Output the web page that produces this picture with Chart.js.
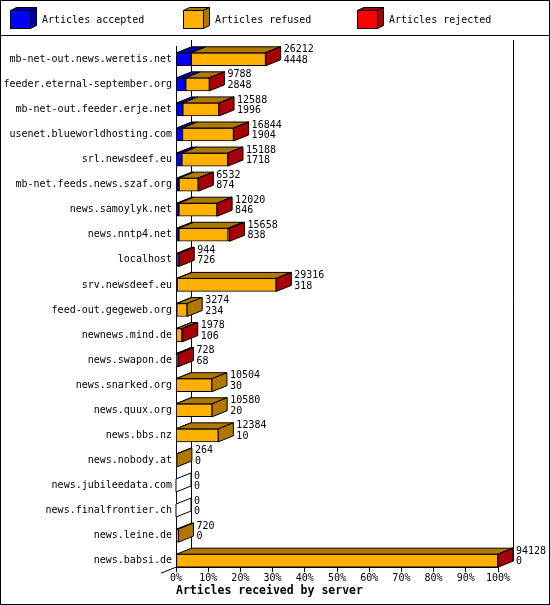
<!DOCTYPE html>
<html>
<head>
<meta charset="utf-8">
<script src="https://cdn.jsdelivr.net/npm/chart.js@4/dist/chart.umd.min.js"></script>
<style>
  html, body { margin: 0; padding: 0; background: #fff; }
  #wrap { width: 550px; height: 605px; }
</style>
</head>
<body>
<div id="wrap"><canvas id="chart" width="550" height="605"></canvas></div>
<script>
const categories = ['mb-net-out.news.weretis.net', 'feeder.eternal-september.org', 'mb-net-out.feeder.erje.net',
  'usenet.blueworldhosting.com', 'srl.newsdeef.eu', 'mb-net.feeds.news.szaf.org', 'news.samoylyk.net',
  'news.nntp4.net', 'localhost', 'srv.newsdeef.eu', 'feed-out.gegeweb.org', 'newnews.mind.de',
  'news.swapon.de', 'news.snarked.org', 'news.quux.org', 'news.bbs.nz', 'news.nobody.at',
  'news.jubileedata.com', 'news.finalfrontier.ch', 'news.leine.de', 'news.babsi.de'];

// first number next to each bar, and second number (accepted)
const totals = [26212, 9788, 12588, 16844, 15188, 6532, 12020, 15658, 944, 29316, 3274,
  1978, 728, 10504, 10580, 12384, 264, 0, 0, 720, 94128];
const accepted = [4448, 2848, 1996, 1904, 1718, 874, 846, 838, 726, 318, 234,
  106, 68, 30, 20, 10, 0, 0, 0, 0, 0];
const refused = [21724, 6910, 10552, 14890, 13430, 5628, 11134, 14370, 18, 28938, 3040,
  1622, 410, 10474, 10560, 12374, 264, 0, 0, 720, 94098];
const rejected = [40, 30, 40, 50, 40, 30, 40, 450, 200, 60, 0,
  250, 250, 0, 0, 0, 0, 0, 0, 0, 30];

const xTicks = [0, 10, 20, 30, 40, 50, 60, 70, 80, 90, 100];

const maxTotal = Math.max(...totals);
const DX = 15, DY = 6;
const FONT = 'DejaVu Sans Mono';

const toPoints = arr => arr.map((v, i) => ({ x: v / maxTotal * 100, y: i }));

const dark = { '#0000ff': '#0000a8', '#ffb000': '#b07800', '#ff0000': '#a80000' };

function poly(ctx, pts, fill) {
  ctx.beginPath();
  ctx.moveTo(pts[0][0], pts[0][1]);
  for (let k = 1; k < pts.length; k++) ctx.lineTo(pts[k][0], pts[k][1]);
  ctx.closePath();
  if (fill) { ctx.fillStyle = fill; ctx.fill(); }
  ctx.stroke();
}

const frame3d = {
  id: 'frame3d',
  beforeDatasetsDraw(chart) {
    const { ctx, chartArea: a } = chart;
    ctx.save();
    ctx.strokeStyle = '#000';
    ctx.lineWidth = 1;
    ctx.beginPath();
    ctx.moveTo(Math.round(a.left + DX) + 0.5, a.top - DY);
    ctx.lineTo(Math.round(a.left + DX) + 0.5, a.bottom - DY);
    ctx.moveTo(Math.round(a.right + DX) + 0.5, a.top - DY);
    ctx.lineTo(Math.round(a.right + DX) + 0.5, a.bottom - DY);
    ctx.moveTo(a.left, a.bottom);
    ctx.lineTo(a.left - DX, a.bottom + DY);
    ctx.stroke();
    ctx.restore();
  },
  afterDatasetsDraw(chart) {
    const { ctx, chartArea: a } = chart;
    const sets = chart.data.datasets;
    ctx.save();
    ctx.strokeStyle = '#000';
    ctx.lineWidth = 1;
    ctx.lineJoin = 'miter';
    for (let i = 0; i < categories.length; i++) {
      let last = -1, end = a.left, top = 0, bottom = 0;
      sets.forEach((ds, d) => {
        const el = chart.getDatasetMeta(d).data[i];
        const p = el.getProps(['x', 'base', 'y', 'height'], true);
        top = p.y - p.height / 2;
        bottom = p.y + p.height / 2;
        if (ds.raw[i] > 0) {
          poly(ctx, [[p.base, top], [p.x, top], [p.x + DX, top - DY], [p.base + DX, top - DY]],
            dark[ds.backgroundColor]);
          last = d;
          end = p.x;
        }
      });
      const sideFill = last >= 0 ? dark[sets[last].backgroundColor] : '#fff';
      poly(ctx, [[end, top], [end + DX, top - DY], [end + DX, bottom - DY], [end, bottom]], sideFill);

      // value labels
      const y = (top + bottom) / 2;
      ctx.fillStyle = '#000';
      ctx.font = '10px "' + FONT + '"';
      ctx.textAlign = 'left';
      ctx.textBaseline = 'middle';
      ctx.fillText(String(totals[i]), end + DX + 3, y - 9.5);
      ctx.fillText(String(accepted[i]), end + DX + 3, y + 1);
    }
    ctx.restore();
  },
  afterDraw(chart) {
    const { ctx } = chart;
    ctx.save();
    ctx.strokeStyle = '#000';
    ctx.lineWidth = 1;
    // legend band
    ctx.beginPath();
    ctx.moveTo(0, 35.5);
    ctx.lineTo(550, 35.5);
    ctx.stroke();
    const xs = [10, 183, 357];
    chart.data.datasets.forEach((ds, d) => {
      const x = xs[d] + 0.5, y = 10.5, w = 20, h = 18;
      ctx.fillStyle = ds.backgroundColor;
      ctx.fillRect(x, y, w, h);
      ctx.strokeRect(x, y, w, h);
      poly(ctx, [[x, y], [x + w, y], [x + w + 6, y - 3], [x + 6, y - 3]], dark[ds.backgroundColor]);
      poly(ctx, [[x + w, y], [x + w + 6, y - 3], [x + w + 6, y + h - 3], [x + w, y + h]], dark[ds.backgroundColor]);
      ctx.fillStyle = '#000';
      ctx.font = '10px "' + FONT + '"';
      ctx.textAlign = 'left';
      ctx.textBaseline = 'middle';
      ctx.fillText(ds.label, xs[d] + 32, 20);
    });
    ctx.strokeRect(0.5, 0.5, 549, 604);
    ctx.restore();
  }
};

const ctx = document.getElementById('chart');

new Chart(ctx, {
  type: 'bar',
  data: {
    datasets: [
      { label: 'Articles accepted', raw: accepted, data: toPoints(accepted), backgroundColor: '#0000ff' },
      { label: 'Articles refused', raw: refused, data: toPoints(refused), backgroundColor: '#ffb000' },
      { label: 'Articles rejected', raw: rejected, data: toPoints(rejected), backgroundColor: '#ff0000' }
    ].map(ds => Object.assign(ds, {
      borderColor: '#000', borderWidth: 1, borderSkipped: false, barThickness: 13
    }))
  },
  options: {
    indexAxis: 'y',
    responsive: false,
    animation: false,
    devicePixelRatio: 1,
    layout: { padding: { top: 46, right: 52, bottom: 1, left: 0 } },
    plugins: { legend: { display: false }, tooltip: { enabled: false } },
    scales: {
      x: {
        type: 'linear',
        stacked: true,
        min: 0,
        max: 100,
        afterBuildTicks: s => { s.ticks = xTicks.map(v => ({ value: v })); },
        ticks: {
          callback: v => v + '%',
          color: '#000',
          padding: 0,
          maxRotation: 0,
          autoSkip: false,
          font: { family: FONT, size: 10 }
        },
        grid: { drawOnChartArea: false, drawTicks: true, tickLength: 5, color: '#000' },
        border: { color: '#000' },
        title: {
          display: true,
          text: 'Articles received by server',
          align: 'start',
          color: '#000',
          padding: { top: 0, bottom: 6 },
          font: { family: FONT, size: 11.5, weight: 'bold' }
        }
      },
      y: {
        type: 'linear',
        stacked: true,
        reverse: true,
        offset: false,
        min: -0.53,
        max: 20.26,
        afterBuildTicks: s => { s.ticks = categories.map((_, i) => ({ value: i })); },
        afterFit: s => { s.width = 176; s.paddingTop = 0; s.paddingBottom = 0; },
        ticks: {
          callback: v => categories[v],
          color: '#000',
          padding: 4,
          autoSkip: false,
          font: { family: FONT, size: 10 }
        },
        grid: { display: false, drawTicks: false, offset: false },
        border: { color: '#000' }
      }
    }
  },
  plugins: [frame3d]
});
</script>
</body>
</html>
